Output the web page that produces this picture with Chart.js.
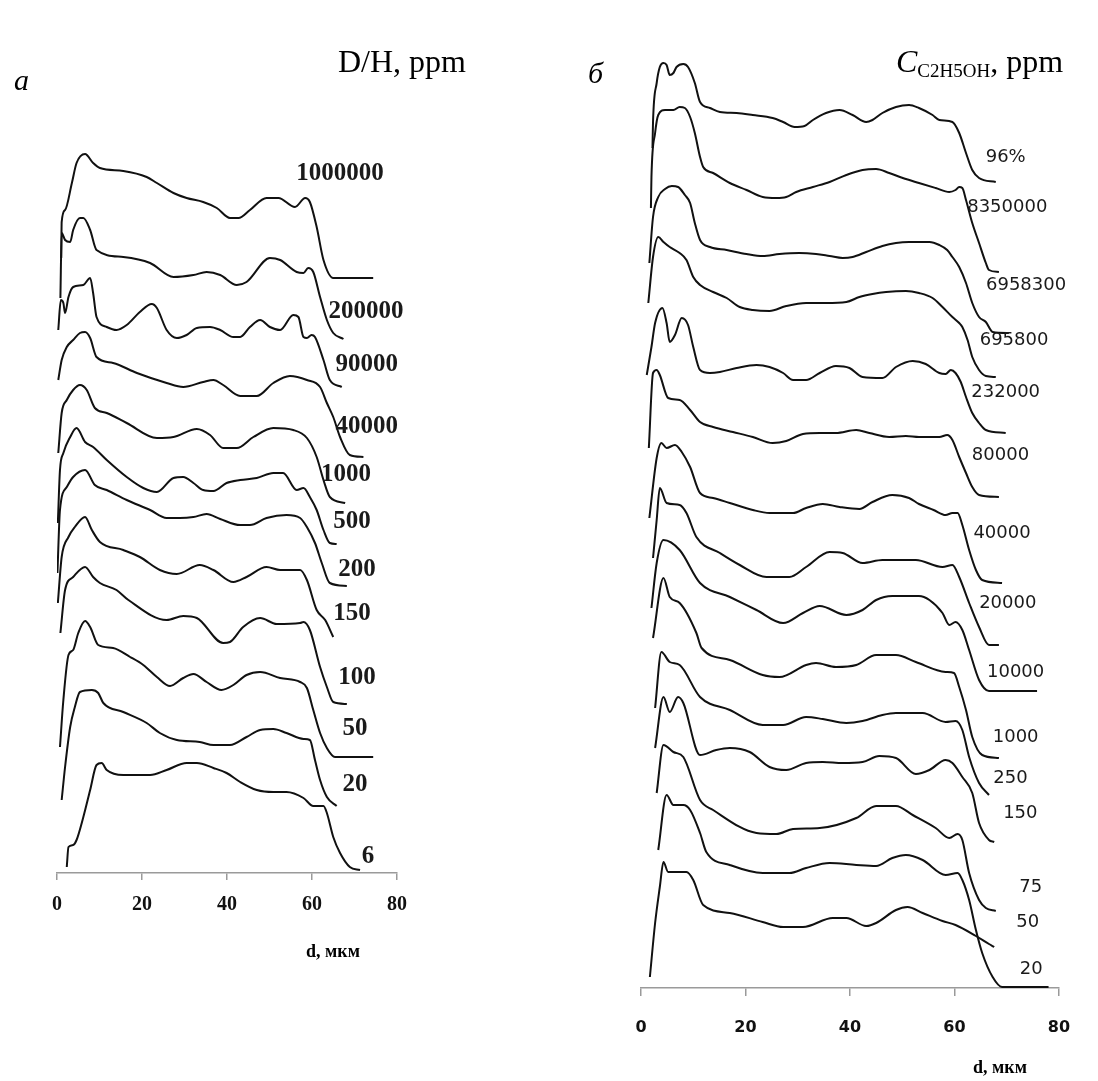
<!DOCTYPE html>
<html>
<head>
<meta charset="utf-8">
<script src="https://cdn.jsdelivr.net/npm/chart.js@4.4.1/dist/chart.umd.min.js"></script>
<style>
  html, body { margin: 0; padding: 0; background: #fff; }
  body { width: 1098px; height: 1081px; position: relative; overflow: hidden; font-family: 'Liberation Serif', serif; color: #000; }
  .panel { position: absolute; top: 0; }
  #wrapA { left: 0; width: 440px; height: 1000px; }
  #wrapB { left: 600px; width: 498px; height: 1081px; }
  .txt { position: absolute; line-height: 1; white-space: nowrap; }
  .ctr { transform: translate(-50%, -50%); }
  sub { font-size: 19px; vertical-align: -5px; line-height: 0; }
</style>
</head>
<body>
<div class="panel" id="wrapA"><canvas id="chartA" width="440" height="1000"></canvas></div>
<div class="panel" id="wrapB"><canvas id="chartB" width="498" height="1081"></canvas></div>

<div class="txt" style="left:338px;top:45px;font-size:32px;">D/H, ppm</div>
<div class="txt" style="left:14px;top:65px;font-size:30px;font-style:italic;">а</div>
<div class="txt" style="left:588px;top:58px;font-size:30px;font-style:italic;">б</div>
<div class="txt" style="left:896px;top:45px;font-size:32px;"><i>C</i><sub>C2H5OH</sub>, ppm</div>
<div class="txt ctr" style="left:333px;top:951px;font-size:18px;font-weight:bold;">d, мкм</div>
<div class="txt ctr" style="left:1000px;top:1067px;font-size:18px;font-weight:bold;">d, мкм</div>

<script>
// tick values of the d axis (μm)
const dTicks = [0, 20, 40, 60, 80];

// panel a: D/H series, [d μm, intensity offset]
const dhNames = ['1000000', '200000', '90000', '40000', '1000', '500', '200', '150', '100', '50', '20', '6'];
const dh1000000 = [[1.0,615],[1.1,651],[1.9,663],[3.5,690],[4.6,710],[6.6,719],[8.5,710],[10.1,705],[15.6,702],[21.1,696],[23.5,690],[27.4,680],[30.5,675],[34.4,671],[37.6,665],[40.7,655],[42.7,655],[45.4,663],[49.3,675],[52.1,675],[56,666],[58.4,675],[59.5,671],[61.1,646],[62.7,613],[65,595],[74.4,595]];
const dh200000 = [[0.8,575],[1.1,640],[1.9,633],[3.1,631],[3.8,643],[5.4,655],[6.2,655],[7.8,643],[9.3,623],[15.6,616],[21.9,610],[27.4,596],[32.1,598],[35.2,601],[38.4,598],[42.3,588],[44.6,591],[50.1,615],[52.5,613],[56.4,601],[58,600],[59.1,605],[60.3,601],[61.9,576],[63.5,553],[65,540],[67.4,534]];
const dh90000 = [[0.3,543],[0.9,573],[1.5,570],[1.9,560],[2.7,576],[3.8,586],[6.2,588],[7.8,595],[8.5,580],[9.3,556],[11.7,546],[14,543],[16.4,548],[19.5,561],[22.3,569],[23.5,565],[25.8,543],[28.2,535],[30.5,538],[32.9,545],[36,546],[38.4,543],[41.5,536],[43.1,536],[45.4,546],[47.8,553],[50.1,546],[52.5,543],[55.6,558],[56.8,556],[58,536],[58.8,535],[59.9,538],[60.7,536],[62.7,513],[64.2,493],[67,486]];
const dh40000 = [[0.3,493],[1.1,513],[2.3,526],[3.8,533],[5.4,540],[6.6,541],[7.8,535],[9.3,516],[13.2,510],[18.8,500],[25.8,490],[29.7,486],[34.4,491],[36.8,493],[39.1,488],[43.1,477],[47,477],[50.9,490],[54.8,497],[58.8,493],[61.9,486],[63.5,470],[65,456],[66.6,436],[68.9,418],[72.1,416]];
const dh1000 = [[0.3,420],[1.1,460],[2.3,473],[3.8,483],[5.4,488],[7,483],[8.9,465],[11.7,460],[16.4,450],[23.5,435],[27.4,436],[32.9,444],[36,438],[39.1,425],[42.3,425],[46.2,436],[50.9,445],[55.6,443],[58.8,435],[61.1,416],[62.7,393],[64.2,376],[67.8,370]];
const dh500 = [[0.2,350],[0.7,403],[1.5,420],[3.1,436],[4.6,445],[6.6,431],[8.5,426],[11.7,413],[16.4,396],[20.3,385],[23.5,381],[27.4,395],[29.7,396],[32.1,390],[34.4,383],[36.8,382],[39.9,390],[43.1,393],[47,395],[50.9,400],[53.2,400],[56.4,383],[58,385],[59.5,376],[61.1,363],[62.7,343],[64.2,330],[65.8,329]];
const dh200 = [[0.1,300],[0.7,363],[2.3,386],[3.8,396],[6.6,403],[8.9,388],[11.7,383],[16.4,373],[21.9,363],[25.8,355],[28.9,355],[32.1,356],[35.2,359],[38.4,354],[43.1,348],[45.4,348],[49.3,355],[54,358],[57.2,355],[58.8,346],[60.7,330],[62.3,310],[64.2,290],[68.2,287]];
const dh150 = [[0.2,270],[1.1,316],[2.7,336],[4.2,346],[6.6,356],[8.2,343],[10.1,331],[15.6,323],[19.5,316],[24.2,303],[28.2,299],[33.6,308],[36.8,303],[41.5,291],[44.6,296],[49.3,306],[52.5,303],[57.2,303],[58.8,293],[61.1,263],[63.1,253],[65,236]];
const dh100 = [[0.8,240],[1.9,283],[3.8,296],[6.6,306],[8.5,296],[10.1,290],[14,283],[16.8,273],[25.8,253],[29.7,257],[32.9,255],[39.1,230],[40.7,231],[43.8,246],[47.8,255],[51.7,249],[57.2,250],[58,251],[59.5,243],[61.9,206],[63.5,186],[65,171],[68.2,169]];
const dh50 = [[0.7,126],[1.5,173],[2.7,218],[3.8,223],[5,240],[6.6,252],[7.8,246],[9.7,228],[13.2,225],[17.2,216],[20.3,208],[23.5,196],[26.6,187],[29.7,195],[32.1,199],[35.2,191],[38.7,183],[41.5,188],[44.6,198],[47.8,201],[52.5,195],[57.2,191],[58.8,185],[60.3,163],[61.9,140],[63.5,125],[65.4,116],[74.4,116]];
const dh20 = [[1.1,73],[1.9,106],[3.1,146],[4.2,166],[5.4,181],[8.2,183],[9.7,180],[10.9,170],[15.6,161],[21.1,150],[24.2,140],[28.2,133],[33.6,131],[36.8,128],[40.7,128],[44.6,136],[47.8,143],[50.9,144],[54,140],[58,134],[59.5,133],[60.7,113],[61.9,93],[63.5,76],[65.8,67]];
const dh6 = [[2.3,6],[2.7,26],[3.8,28],[4.6,33],[6.2,56],[7.8,83],[9.3,108],[10.5,110],[11.7,103],[15.6,98],[21.9,98],[25.8,103],[30.5,110],[32.9,110],[36.8,105],[39.9,100],[43.1,91],[47,83],[50.9,81],[54,81],[58,75],[60.3,67],[62.7,67],[63.5,60],[65,36],[66.6,20],[68.9,6],[71.3,3]];
const dhSeries = [dh1000000, dh200000, dh90000, dh40000, dh1000, dh500, dh200, dh150, dh100, dh50, dh20, dh6];
// where each name sits, in axis units
const dhNameAt = [[66.6,699],[72.7,561],[72.9,508],[72.9,446],[68,398],[69.4,351],[70.6,303],[69.4,259],[70.6,195],[70.1,144],[70.1,88],[73.2,16]];

// panel b: ethanol series
const etNames = ['96%', '8350000', '6958300', '695800', '232000', '80000', '40000', '20000', '10000', '1000', '250', '150', '75', '50', '20'];
const et96 = [[2.2,840],[2.3,866],[3,905],[3.6,921],[4.3,925],[4.9,923],[5.5,913],[6.2,915],[6.8,921],[8.1,924],[9,921],[10.3,905],[11.3,886],[13.2,880],[15.1,876],[18.3,875],[21.4,873],[25.2,870],[27.2,866],[29.4,861],[31.3,862],[32.9,868],[35.4,875],[38,878],[40.5,873],[43.1,866],[44.3,868],[46.2,875],[48.8,881],[51.3,883],[53.2,880],[55.8,873],[57.1,868],[59.6,866],[60.9,855],[62.2,835],[63.4,818],[64.7,810],[67.9,806]];
const et8350000 = [[1.9,780],[2,811],[2.7,855],[3.3,873],[4.6,878],[6.2,878],[7.4,881],[8.4,880],[9.4,871],[10.3,855],[11.3,831],[11.9,821],[13.8,815],[17,805],[20.2,798],[23.3,791],[25.9,790],[27.8,791],[29.7,796],[32.9,801],[36.1,806],[39.3,813],[42.4,818],[45,819],[47.5,815],[50.1,810],[53.2,805],[56.4,800],[59,796],[60.2,798],[60.9,801],[61.5,800],[62.2,788],[63.4,765],[64.7,745],[66,725],[66.6,718],[68.5,716]];
const et6958300 = [[1.6,725],[2.3,771],[3.3,791],[4.6,799],[5.9,802],[7.1,801],[8.4,793],[9.4,785],[10.3,765],[11.3,748],[13.2,741],[16.4,738],[20.2,734],[23.3,732],[26.5,734],[30.3,735],[33.5,734],[36.1,732],[38.6,730],[40.5,731],[43.1,736],[46.2,742],[48.8,745],[51.3,746],[55.2,746],[57.1,743],[58.6,738],[59.6,731],[60.9,721],[62.2,705],[63.4,685],[64.7,671],[66,666],[67.3,656],[70.4,655]];
const et695800 = [[1.4,685],[2.3,731],[3.3,751],[4.3,746],[5.5,741],[7.4,735],[8.7,728],[10,711],[11.3,703],[13.8,696],[16.4,690],[18.9,681],[21.4,678],[24.6,677],[27.8,682],[31.6,685],[35.4,685],[39.3,686],[41.8,691],[44.3,694],[46.9,696],[50.7,697],[53.2,695],[55.8,690],[57.7,681],[59.6,671],[60.9,665],[61.5,661],[62.5,648],[63.4,631],[64.7,618],[66,612],[67.9,611]];
const et232000 = [[1.1,613],[2,641],[2.7,665],[4.1,680],[4.9,665],[5.5,646],[6.5,653],[7.8,670],[9,663],[10,641],[11.3,618],[13.2,615],[15.1,616],[18.3,620],[22.1,623],[24.6,621],[27.2,615],[29.1,608],[31.6,608],[34.2,615],[37.3,622],[39.9,620],[42.4,611],[46.2,610],[48.8,621],[52,627],[54.5,624],[57.1,615],[58.3,614],[59.3,618],[60.2,615],[61.2,606],[62.2,591],[63.4,575],[64.7,565],[66,558],[69.8,555]];
const et80000 = [[1.5,540],[2.3,615],[3,618],[3.6,613],[5.2,590],[7.4,588],[9.4,578],[11.3,566],[13.8,561],[17.6,556],[21.4,551],[25.2,545],[27.8,547],[31,554],[34.2,555],[37.3,555],[41.2,558],[43.7,555],[47.5,551],[50.7,552],[53.2,551],[57.1,551],[58.6,553],[59.6,548],[60.9,531],[62.2,515],[63.4,501],[64.7,493],[68.5,491]];
const et40000 = [[1.6,470],[3,530],[3.9,545],[4.9,540],[6.5,543],[7.8,536],[9.4,521],[11.3,495],[13.8,490],[17,485],[21.4,478],[24.6,475],[29.1,475],[31.6,480],[34.8,484],[38,481],[41.8,479],[44.3,486],[48.1,493],[51.3,490],[53.2,484],[56,478],[58.3,473],[59.6,475],[60.6,475],[61.5,463],[62.8,438],[64.1,418],[65.3,408],[69.1,405]];
const et20000 = [[2.3,430],[3,468],[3.6,500],[4.9,485],[7.4,483],[8.7,475],[10.6,451],[15.1,435],[18.9,423],[24,411],[28.4,411],[31.6,421],[36.1,436],[38.6,435],[42.4,425],[46.2,428],[52.6,428],[57.7,421],[59.6,423],[60.9,411],[62.8,385],[64.7,361],[66.6,343],[68.5,343]];
const et10000 = [[2,380],[3,425],[4.3,448],[7.4,438],[11.3,405],[17,391],[22.1,378],[27.2,365],[31,375],[34.2,382],[39.3,373],[42.4,378],[45,388],[48.1,392],[53.2,392],[55.2,388],[57.7,375],[59,363],[60.2,366],[61.5,358],[62.8,338],[64.7,308],[66.6,297],[75.8,297]];
const et1000 = [[2.3,350],[4.3,410],[5.5,391],[7.4,385],[10.6,355],[11.6,340],[17,328],[23.3,313],[26.5,311],[31.6,323],[33.5,325],[37.3,321],[41.2,323],[45,333],[48.8,333],[52.6,326],[58.3,316],[59.9,315],[60.9,301],[62.2,278],[63.4,251],[65.3,233],[68.5,230]];
const et250 = [[2.7,280],[3.9,336],[5.5,326],[7.4,323],[11.3,291],[17,278],[23.3,263],[27.2,263],[31.6,271],[34.8,269],[39.3,265],[42.4,267],[46.2,273],[48.8,275],[53.9,275],[58.3,266],[60.2,267],[61.5,258],[62.8,231],[64.7,205],[66.6,193]];
const et150 = [[2.7,240],[4.3,291],[5.5,276],[7.1,291],[8.1,285],[11.3,233],[14.4,238],[17,240],[20.8,236],[24.6,221],[27.8,218],[31.6,225],[34.8,226],[38.6,225],[42.4,226],[45.6,232],[48.8,230],[52.6,214],[55.2,218],[58.3,228],[59.6,225],[61.5,211],[63.4,195],[64.7,165],[66.6,148],[67.6,146]];
const et75 = [[3,195],[4.3,243],[6.2,236],[8.1,231],[11.3,188],[13.8,178],[22.1,155],[25.9,154],[29.1,159],[34.2,160],[41.2,170],[45,182],[48.8,182],[52,173],[56.4,160],[59,150],[60.6,154],[61.5,148],[62.8,115],[64.7,88],[66,80],[67.9,77]];
const et50 = [[3.3,138],[4.9,193],[6.2,183],[8.1,183],[9.4,178],[11.3,155],[12.5,136],[17,123],[23.3,115],[28.4,115],[31.6,120],[36.1,125],[41.2,123],[45,122],[48.1,130],[50.7,133],[53.9,128],[58.3,113],[60.6,115],[61.5,108],[62.8,88],[64.1,58],[65.3,35],[67.3,11],[69.1,1],[78,1]];
const et20 = [[1.7,11],[2.7,65],[3.6,101],[4.3,126],[5.2,116],[8.7,116],[10,108],[11.9,83],[17,75],[23.3,66],[27.2,61],[31,61],[36.7,70],[39.3,70],[43.1,62],[45,65],[48.8,78],[51,81],[53.9,75],[57.7,67],[60.2,63],[64.1,52],[66.6,44],[67.6,41]];
const etSeries = [et96, et8350000, et6958300, et695800, et232000, et80000, et40000, et20000, et10000, et1000, et250, et150, et75, et50, et20];
const etNameAt = [[69.8,831],[70.1,781],[73.7,703],[71.4,648],[69.8,596],[68.8,533],[69.1,455],[70.2,385],[71.7,316],[71.7,251],[70.7,210],[72.6,175],[74.6,101],[74,66],[74.7,19]];

// writes each curve's name next to its tail
const curveNames = {
  id: 'curveNames',
  afterDatasetsDraw(chart, args, opts) {
    const { ctx, scales: { x, y } } = chart;
    ctx.save();
    ctx.fillStyle = opts.color;
    ctx.font = opts.font;
    ctx.textAlign = 'center';
    ctx.textBaseline = 'middle';
    opts.names.forEach((name, i) => {
      const p = opts.at[i];
      ctx.fillText(name, x.getPixelForValue(p[0]), y.getPixelForValue(p[1]));
    });
    ctx.restore();
  }
};

function makePanel(canvasId, series, names, nameAt, cfg) {
  const ctx = document.getElementById(canvasId).getContext('2d');
  return new Chart(ctx, {
    type: 'line',
    data: {
      datasets: series.map((pts, i) => ({
        label: names[i],
        data: pts.map(p => ({ x: p[0], y: p[1] })),
        borderColor: '#111',
        borderWidth: 2,
        pointRadius: 0,
        fill: false,
        cubicInterpolationMode: 'monotone',
      })),
    },
    options: {
      responsive: false,
      animation: false,
      events: [],
      layout: { padding: cfg.padding },
      plugins: {
        legend: { display: false },
        tooltip: { enabled: false },
        curveNames: { names: names, at: nameAt, font: cfg.nameFont, color: '#1a1a1a' },
      },
      scales: {
        x: {
          type: 'linear',
          min: 0,
          max: 80,
          afterBuildTicks: (axis) => { axis.ticks = dTicks.map(v => ({ value: v })); },
          afterFit: (axis) => { axis.height = cfg.axisHeight; },
          border: { display: true, color: '#9a9a9a', width: 1.5 },
          grid: { display: true, drawOnChartArea: false, drawTicks: true, tickLength: cfg.tickLength, color: '#9a9a9a', lineWidth: 1.5 },
          ticks: { color: '#111', padding: cfg.tickPadding, maxRotation: 0, font: cfg.tickFont },
        },
        y: { display: false, min: 0, max: cfg.yMax },
      },
    },
    plugins: [curveNames],
  });
}

makePanel('chartA', dhSeries, dhNames, dhNameAt, {
  padding: { left: 57, right: 43, top: 113, bottom: 0 },
  axisHeight: 127,
  yMax: 760,
  tickLength: 7,
  tickPadding: 13,
  tickFont: { family: 'Liberation Serif', size: 20, weight: 'bold' },
  nameFont: 'bold 25px "Liberation Serif"',
});

makePanel('chartB', etSeries, etNames, etNameAt, {
  padding: { left: 41, right: 39, top: 48, bottom: 0 },
  axisHeight: 93,
  yMax: 940,
  tickLength: 8,
  tickPadding: 22,
  tickFont: { family: 'DejaVu Sans', size: 16, weight: 'bold' },
  nameFont: '18px "DejaVu Sans"',
});
</script>
</body>
</html>
